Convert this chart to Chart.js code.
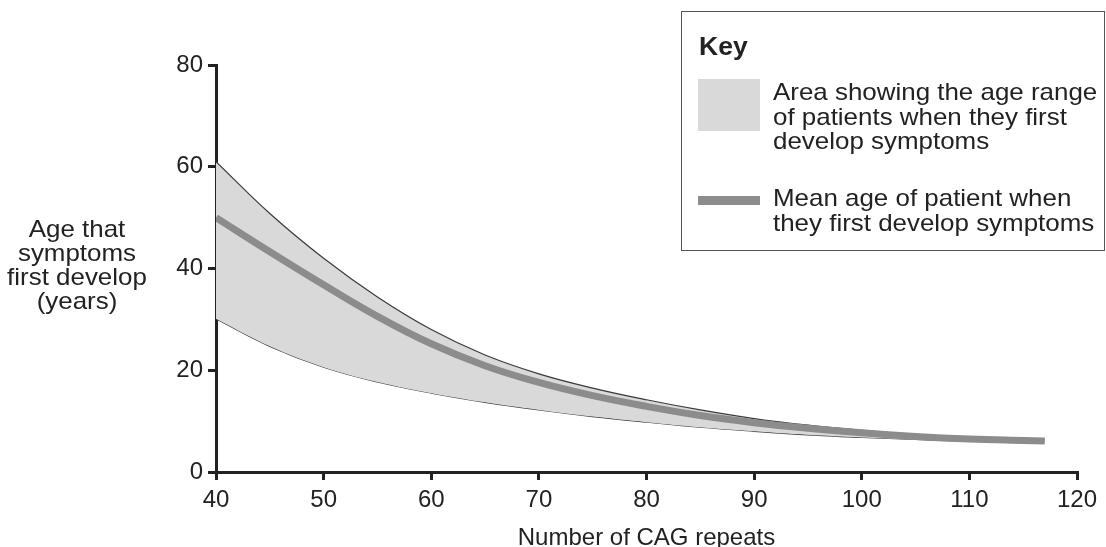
<!DOCTYPE html>
<html>
<head>
<meta charset="utf-8">
<script src="https://cdn.jsdelivr.net/npm/chart.js@4.4.1/dist/chart.umd.min.js"></script>
<style>
  html, body { margin: 0; padding: 0; background: #fff; }
  #wrap { position: relative; width: 1106px; height: 547px; overflow: hidden; font-family: "Liberation Sans", Arial, sans-serif; color: #222; }
  #c { position: absolute; left: 0; top: 0; }
  .ytitle { position: absolute; left: 0; top: 217px; width: 154px; text-align: center; font-size: 24px; line-height: 24px; transform: scaleX(1.08); transform-origin: 77px 0; }
  .key { position: absolute; left: 681px; top: 11px; width: 422px; height: 238px; border: 1.5px solid #555; }
  .key .k { position: absolute; left: 17px; top: 21px; font-size: 25px; font-weight: bold; line-height: 26px; transform: scaleX(1.06); transform-origin: 0 0; }
  .key .sw1 { position: absolute; left: 16px; top: 67px; width: 62px; height: 52px; background: #d9d9d9; }
  .key .sw2 { position: absolute; left: 16px; top: 184px; width: 62px; height: 9px; background: #8c8c8c; }
  .key .t { position: absolute; left: 91px; font-size: 24px; line-height: 24.5px; white-space: nowrap; transform: scaleX(1.08); transform-origin: 0 0; }
</style>
</head>
<body>
<div id="wrap">
  <canvas id="c" width="1106" height="547"></canvas>
  <div class="ytitle">Age that<br>symptoms<br>first develop<br>(years)</div>
  <div class="key">
    <div class="k">Key</div>
    <div class="sw1"></div>
    <div class="t" style="top:68px">Area showing the age range<br>of patients when they first<br>develop symptoms</div>
    <div class="sw2"></div>
    <div class="t" style="top:174px">Mean age of patient when<br>they first develop symptoms</div>
  </div>
</div>
<script>
// Data
const cagRepeats = [40, 45, 50, 55, 60, 65, 70, 75, 80, 85, 90, 95, 100, 105, 110, 115, 117];
const upperAge   = [61.0, 50.8, 42.0, 34.4, 28.0, 23.0, 19.3, 16.5, 14.2, 12.2, 10.5, 9.2, 8.2, 7.4, 6.8, 6.4, 6.3];
const meanAge    = [50.0, 43.3, 36.8, 30.6, 25.2, 20.9, 17.6, 15.0, 12.9, 11.1, 9.7, 8.6, 7.7, 7.0, 6.5, 6.2, 6.1];
const lowerAge   = [30.1, 24.7, 20.6, 17.7, 15.5, 13.7, 12.2, 10.9, 9.8, 8.8, 8.0, 7.3, 6.8, 6.4, 6.1, 5.9, 5.9];
const xTicks = [40, 50, 60, 70, 80, 90, 100, 110, 120];
const yTicks = [0, 20, 40, 60, 80];
const xTitle = 'Number of CAG repeats';

const toPts = arr => cagRepeats.map((x, i) => ({ x: x, y: arr[i] }));
const FONT = "'Liberation Sans', Arial, sans-serif";

new Chart(document.getElementById('c'), {
  type: 'line',
  data: {
    datasets: [
      { label: 'Mean', data: toPts(meanAge), borderColor: '#8c8c8c', borderWidth: 7, borderCapStyle: 'butt', pointRadius: 0, fill: false, tension: 0.4, order: 0 },
      { label: 'Upper', data: toPts(upperAge), borderColor: '#3a3a3a', borderWidth: 1.2, pointRadius: 0, backgroundColor: '#d9d9d9', fill: '+1', tension: 0.4, order: 1 },
      { label: 'Lower', data: toPts(lowerAge), borderColor: '#3a3a3a', borderWidth: 1.2, pointRadius: 0, fill: false, tension: 0.4, order: 2 }
    ]
  },
  options: {
    responsive: false,
    animation: false,
    devicePixelRatio: 1,
    layout: { padding: { left: 0, right: 29, top: 65, bottom: 0 } },
    plugins: { legend: { display: false }, tooltip: { enabled: false } },
    scales: {
      x: {
        type: 'linear', min: 40, max: 120,
        afterBuildTicks: s => { s.ticks = xTicks.map(v => ({ value: v })); },
        afterFit: s => { s.height = 75; },
        grid: { display: true, drawOnChartArea: false, drawTicks: true, tickLength: 8, color: '#222', lineWidth: 3 },
        border: { display: true, color: '#222', width: 3 },
        ticks: { color: '#222', font: { family: FONT, size: 24 }, padding: 6, maxRotation: 0 },
        title: { display: true, text: xTitle, color: '#222', font: { family: FONT, size: 24 }, padding: { top: 0, bottom: -6 } }
      },
      y: {
        type: 'linear', min: 0, max: 80,
        afterBuildTicks: s => { s.ticks = yTicks.map(v => ({ value: v })); },
        afterFit: s => { s.width = 216; },
        grid: { display: true, drawOnChartArea: false, drawTicks: true, tickLength: 8, color: '#222', lineWidth: 3 },
        border: { display: true, color: '#222', width: 3 },
        ticks: { color: '#222', font: { family: FONT, size: 24 }, padding: 5 }
      }
    }
  }
});
</script>
</body>
</html>
